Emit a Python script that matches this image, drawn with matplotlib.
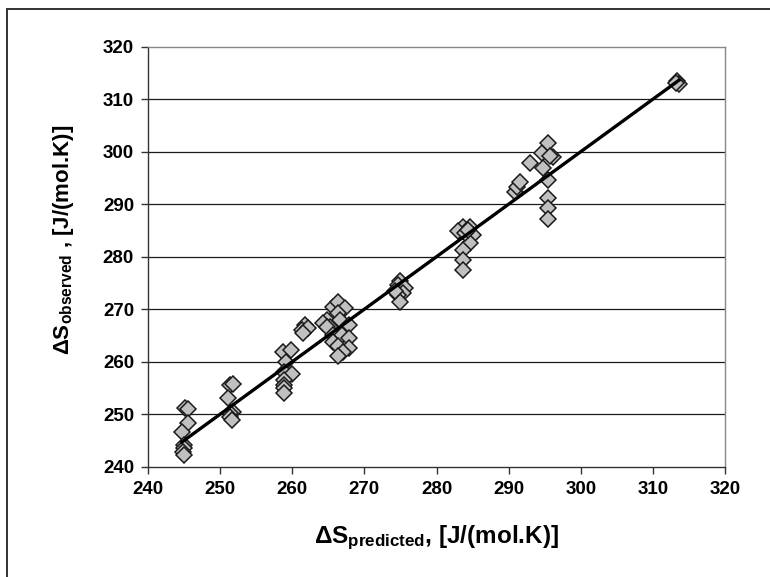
import matplotlib
matplotlib.use("Agg")
import matplotlib.pyplot as plt
from matplotlib.patches import Rectangle
import numpy as np

plt.rcParams['font.family'] = ['Liberation Sans', 'DejaVu Sans']
plt.rcParams['font.weight'] = 'bold'

s_predicted = [245.1, 245.6, 245.6, 244.7, 245.0, 245.0, 244.9, 245.0,
               251.4, 251.8, 251.1, 251.8, 251.4, 251.4, 251.6,
               258.7, 259.8, 259.2, 258.8, 259.9, 258.8, 258.8, 258.8, 258.8,
               261.8, 261.3, 262.2, 261.5,
               264.8, 264.3, 265.2, 264.8, 265.7, 266.4, 267.3, 266.4, 266.6,
               267.8, 265.7, 266.9, 267.8, 265.7, 266.4, 267.8, 267.1, 266.4,
               275.0, 274.7, 275.6, 275.4, 274.6, 275.0, 274.3,
               283.7, 284.7, 283.0, 285.1, 284.7, 283.7, 283.7, 283.7, 283.9, 284.3,
               290.9, 291.1, 291.6, 293.0,
               294.6, 295.5, 296.2, 295.7, 294.8, 295.5, 295.5, 295.5, 295.5,
               313.3, 313.6, 313.2]
s_observed = [251.1, 250.9, 248.3, 246.7, 244.2, 243.6, 242.8, 242.2,
              255.6, 255.7, 253.0, 250.5, 250.3, 249.5, 248.9,
              261.9, 262.2, 260.0, 258.1, 257.7, 256.5, 255.6, 254.9, 254.0,
              267.0, 266.0, 266.4, 265.4,
              268.0, 267.3, 266.7, 266.7, 270.5, 271.4, 270.2, 269.2, 267.9,
              267.0, 265.1, 265.1, 264.5, 263.8, 262.9, 262.6, 261.9, 261.0,
              275.3, 274.6, 274.0, 273.1, 272.7, 271.4, 273.5,
              285.7, 285.7, 284.8, 284.1, 282.6, 281.3, 279.4, 277.5, 284.5, 285.0,
              292.4, 293.3, 294.3, 297.9,
              299.7, 301.6, 298.9, 299.1, 296.8, 294.6, 291.1, 289.2, 287.1,
              313.4, 312.8, 313.0]

# trend line
slope = 1.0
intercept = 0.0

ticks = [240, 250, 260, 270, 280, 290, 300, 310, 320]

fig = plt.figure(figsize=(7.7, 5.77), dpi=100)
ax = fig.add_axes([148/770, 1 - 466.7/577, 577/770, 420/577])

# outer frame of the chart object
fig.patches.append(Rectangle((7/770, -0.05), 1.2, 1 - 9/577 + 0.05,
                             transform=fig.transFigure, fill=False,
                             edgecolor='#222222', linewidth=1.3))

for v in ticks[1:-1]:
    ax.axhline(v, color='#1a1a1a', linewidth=0.9, zorder=1)

ax.plot(s_predicted, s_observed, linestyle='none', marker='D', markersize=7.8,
        markerfacecolor='#c0c0c0', markeredgecolor='#1a1a1a', markeredgewidth=1.1,
        zorder=2)

xs = np.array([min(s_predicted), max(s_predicted)])
ax.plot(xs, slope*xs + intercept, color='black', linewidth=2.4, zorder=3)

ax.set_xlim(240, 320)
ax.set_ylim(240, 320)
ax.set_xticks(ticks)
ax.set_yticks(ticks)
ax.tick_params(direction='out', length=5, width=1, color='#333333',
               labelsize=13.5, pad=5)
for lab in ax.get_xticklabels() + ax.get_yticklabels():
    lab.set_fontweight('bold')

ax.spines['left'].set_color('#333333')
ax.spines['bottom'].set_color('#333333')
ax.spines['top'].set_color('#888888')
ax.spines['right'].set_color('#888888')
for sp in ax.spines.values():
    sp.set_linewidth(1)

ax.set_xlabel(r'$\mathregular{\Delta S_{predicted}}$, [J/(mol.K)]',
              fontsize=17.5, fontweight='bold')
ax.set_ylabel(r'$\mathregular{\Delta S_{observed}}$ , [J/(mol.K)]',
              fontsize=16, fontweight='bold')
ax.xaxis.set_label_coords(0.5, -0.135)
ax.yaxis.set_label_coords(-0.125, 0.54)

fig.savefig('out.png', dpi=100)
